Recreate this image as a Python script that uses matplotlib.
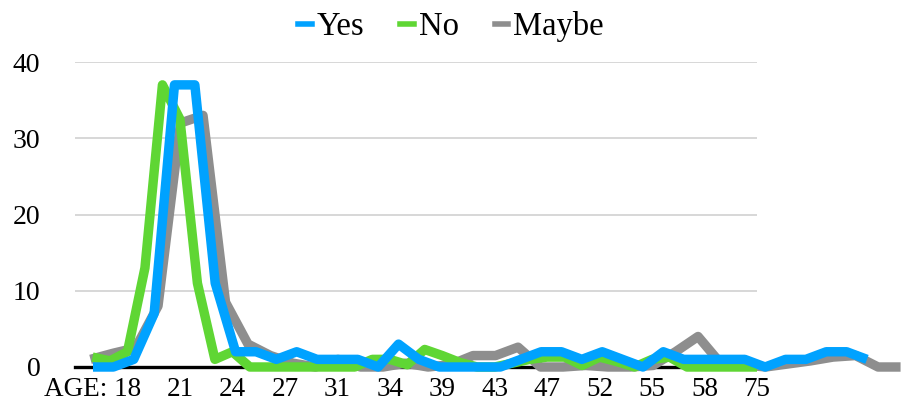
import matplotlib
matplotlib.use("Agg")
import matplotlib.pyplot as plt
from matplotlib.lines import Line2D
import numpy as np

plt.rcParams['font.family'] = ['Liberation Serif', 'DejaVu Serif']

# ---------------- data ----------------
categories = ["AGE:", "", "", "18", "", "", "21", "", "", "24", "", "", "27", "", "",
              "31", "", "", "34", "", "", "39", "", "", "43", "", "", "47", "", "",
              "52", "", "", "55", "", "", "58", "", "", "75"]
tick_labels = ["AGE: 18", "21", "24", "27", "31", "34", "39", "43", "47", "52", "55", "58", "75"]

yes = [0, 0, 1, 7, 37, 37, 11, 2, 2, 1, 2, 1, 1, 1, 0, 3, 1, 0, 0, 0, 0, 1, 2, 2, 1,
       2, 1, 0, 2, 1, 1, 1, 1, 0, 1, 1, 2, 2, 1]
no = [1.3, 0.8, 2, 13, 37, 32.5, 11, 1, 2, 0, 0, 0, 0, 0, 0, 0, 1, 1, 0.3, 2.3,
      1.5, 0.6, 0, 0, 0.5, 1, 1.3, 1.3, 0.2, 1.3, 0.7, 0, 1, 1.3, 0, 0, 0, 0, 0]
maybe = [1, 1.8, 2.5, 8, 32, 33, 8.5, 3, 1.5, 0.5, 0, 1, 0, 0, 0.5, 0, 0.3, 1.5,
         1.5, 2.6, 0, 0, 0.2, 0, 0, 0.2, 2, 4, 0.5, 0.3, 0, 0.4, 0.8, 1.3, 1.5, 0, 0]

series_names = ["Yes", "No", "Maybe"]
colors = {"Yes": "#00A2FF", "No": "#5FD634", "Maybe": "#8E8E8E"}

# each series sits on its own category axis (like Excel secondary axes)
# axis limits expressed in that series' own category units
axis_limits = {
    "No": (-1.0, 38.0),
    "Yes": (-0.884, 32.6),
    "Maybe": (-0.689, 29.62),
}
values = {"Yes": yes, "No": no, "Maybe": maybe}

# ---------------- figure ----------------
W, H = 902, 403
fig = plt.figure(figsize=(W / 100, H / 100), dpi=100)
ax = fig.add_axes([75 / W, 36 / H, 682 / W, 305 / H])

ax.set_ylim(0, 40)
ax.set_yticks([0, 10, 20, 30, 40])
ax.set_xlim(0, len(categories) - 1)
ax.yaxis.grid(True, color="#d4d4d4", linewidth=1.3)
ax.set_axisbelow(True)
for s in ["top", "right", "left"]:
    ax.spines[s].set_visible(False)
ax.spines["bottom"].set_color("black")
ax.spines["bottom"].set_linewidth(2.4)
ax.tick_params(axis="y", length=0, pad=25, labelsize=20)

# x labels: every third category
label_idx = [i for i, c in enumerate(categories) if c]
label_idx = label_idx[:1] + label_idx[2:]
ax.set_xticks([1.0] + label_idx[1:])
ax.set_xticklabels(tick_labels)
ax.tick_params(axis="x", length=0, pad=7, labelsize=19.5)

# draw order: Maybe (bottom), No, Yes (top)
for name in ["Maybe", "No", "Yes"]:
    tw = ax.twiny()
    tw.set_xlim(*axis_limits[name])
    tw.set_ylim(0, 40)
    tw.axis("off")
    tw.patch.set_visible(False)
    v = values[name]
    tw.plot(np.arange(len(v)), v, color=colors[name], linewidth=6.8,
            solid_joinstyle="round", solid_capstyle="butt", clip_on=False)

handles = [Line2D([0], [0], color=colors[n], linewidth=4) for n in series_names]
fig.legend(handles, series_names, loc="upper center", bbox_to_anchor=(0.5, 1.045),
           ncol=3, frameon=False, fontsize=23.5, handlelength=0.42,
           handletextpad=0.15, columnspacing=1.1)

fig.savefig("out.png", dpi=100)
